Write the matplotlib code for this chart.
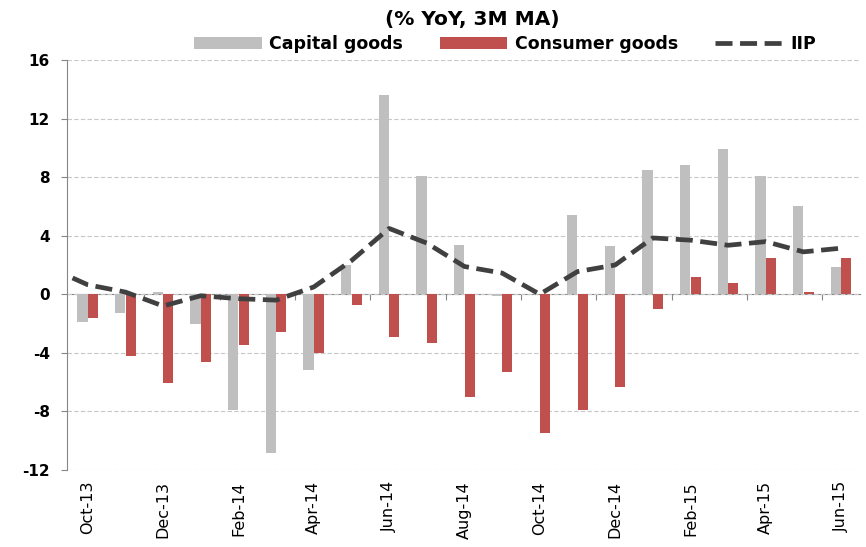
import matplotlib.pyplot as plt
import numpy as np

# Data (% YoY, 3M MA), monthly Oct-13 .. Jun-15
months = ["Oct-13", "Nov-13", "Dec-13", "Jan-14", "Feb-14", "Mar-14", "Apr-14",
          "May-14", "Jun-14", "Jul-14", "Aug-14", "Sep-14", "Oct-14", "Nov-14",
          "Dec-14", "Jan-15", "Feb-15", "Mar-15", "Apr-15", "May-15", "Jun-15"]
capital_goods = [-1.9, -1.25, 0.15, -2.0, -7.9, -10.85, -5.15, 2.0, 13.6, 8.05,
                 3.4, -0.1, 0.05, 5.4, 3.3, 8.5, 8.85, 9.9, 8.05, 6.0, 1.85]
consumer_goods = [-1.6, -4.2, -6.05, -4.65, -3.45, -2.55, -4.0, -0.75, -2.95, -3.35,
                  -7.0, -5.3, -9.45, -7.9, -6.35, -1.0, 1.2, 0.8, 2.5, 0.15, 2.5]
# IIP includes the preceding month (Sep-13), partly visible at the left edge
iip_months = ["Sep-13"] + months
iip = [1.8, 0.65, 0.15, -0.8, -0.1, -0.3, -0.4, 0.5, 2.3, 4.5, 3.5,
       1.9, 1.45, 0.0, 1.55, 2.0, 3.85, 3.7, 3.35, 3.6, 2.9, 3.15]
label_months = months[::2]

plt.rcParams.update({
    "font.family": ["DejaVu Sans"],
    "axes.unicode_minus": False,
})

def main():
    fig = plt.figure(figsize=(8.66, 5.47), dpi=100)
    ax = fig.add_axes([0.077, 0.141, 0.916, 0.749])

    x = np.arange(len(months))
    x_iip = np.arange(len(iip_months)) - 1
    w = 0.27
    b1 = ax.bar(x - 0.14, capital_goods, w, color="#BFBFBF", label="Capital goods", zorder=2)
    b2 = ax.bar(x + 0.14, consumer_goods, w, color="#C0504D", label="Consumer goods", zorder=2)
    l1, = ax.plot(x_iip, iip, color="#404040", linewidth=3.4, linestyle=(0, (3.6, 1.6)),
                  label="IIP", zorder=3)

    ax.set_xlim(-0.56, 20.5)
    ax.set_ylim(-12, 16)
    ax.set_yticks(range(-12, 17, 4))
    ax.yaxis.grid(True, linestyle=(0, (4, 2)), color="#C8C8C8", linewidth=0.8)
    ax.set_axisbelow(True)
    ax.tick_params(axis="y", length=4, color="#868686", labelsize=11, pad=8)
    for lab in ax.get_yticklabels():
        lab.set_fontweight("bold")

    for s in ["top", "right", "bottom"]:
        ax.spines[s].set_visible(False)
    ax.spines["left"].set_color("#868686")

    ax.set_xticks(x[::2])
    ax.set_xticklabels(label_months, rotation=90, fontsize=11.5)
    ax.tick_params(axis="x", length=0, pad=8)

    # category axis crossing at zero
    sec = ax.secondary_xaxis(12 / 28)
    sec.set_xticks(np.arange(-0.5, 21, 2) + 2)
    sec.set_xticklabels([])
    sec.tick_params(length=4, color="#868686", direction="out")
    sec.spines["bottom"].set_color("#868686")

    fig.text(472 / 866, 1 - 20 / 547, "(% YoY, 3M MA)", ha="center", va="center",
             fontsize=14.5, fontweight="bold")
    fig.legend([b1, b2, l1], ["Capital goods", "Consumer goods", "IIP"],
               loc="center", bbox_to_anchor=(505 / 866, 1 - 44 / 547), ncol=3,
               frameon=False, handlelength=3.9, handleheight=0.75, columnspacing=2.1,
               handletextpad=0.45, borderpad=0, prop={"weight": "bold", "size": 12.5})

    fig.savefig("out.png", dpi=100)

if __name__ == "__main__":
    main()
